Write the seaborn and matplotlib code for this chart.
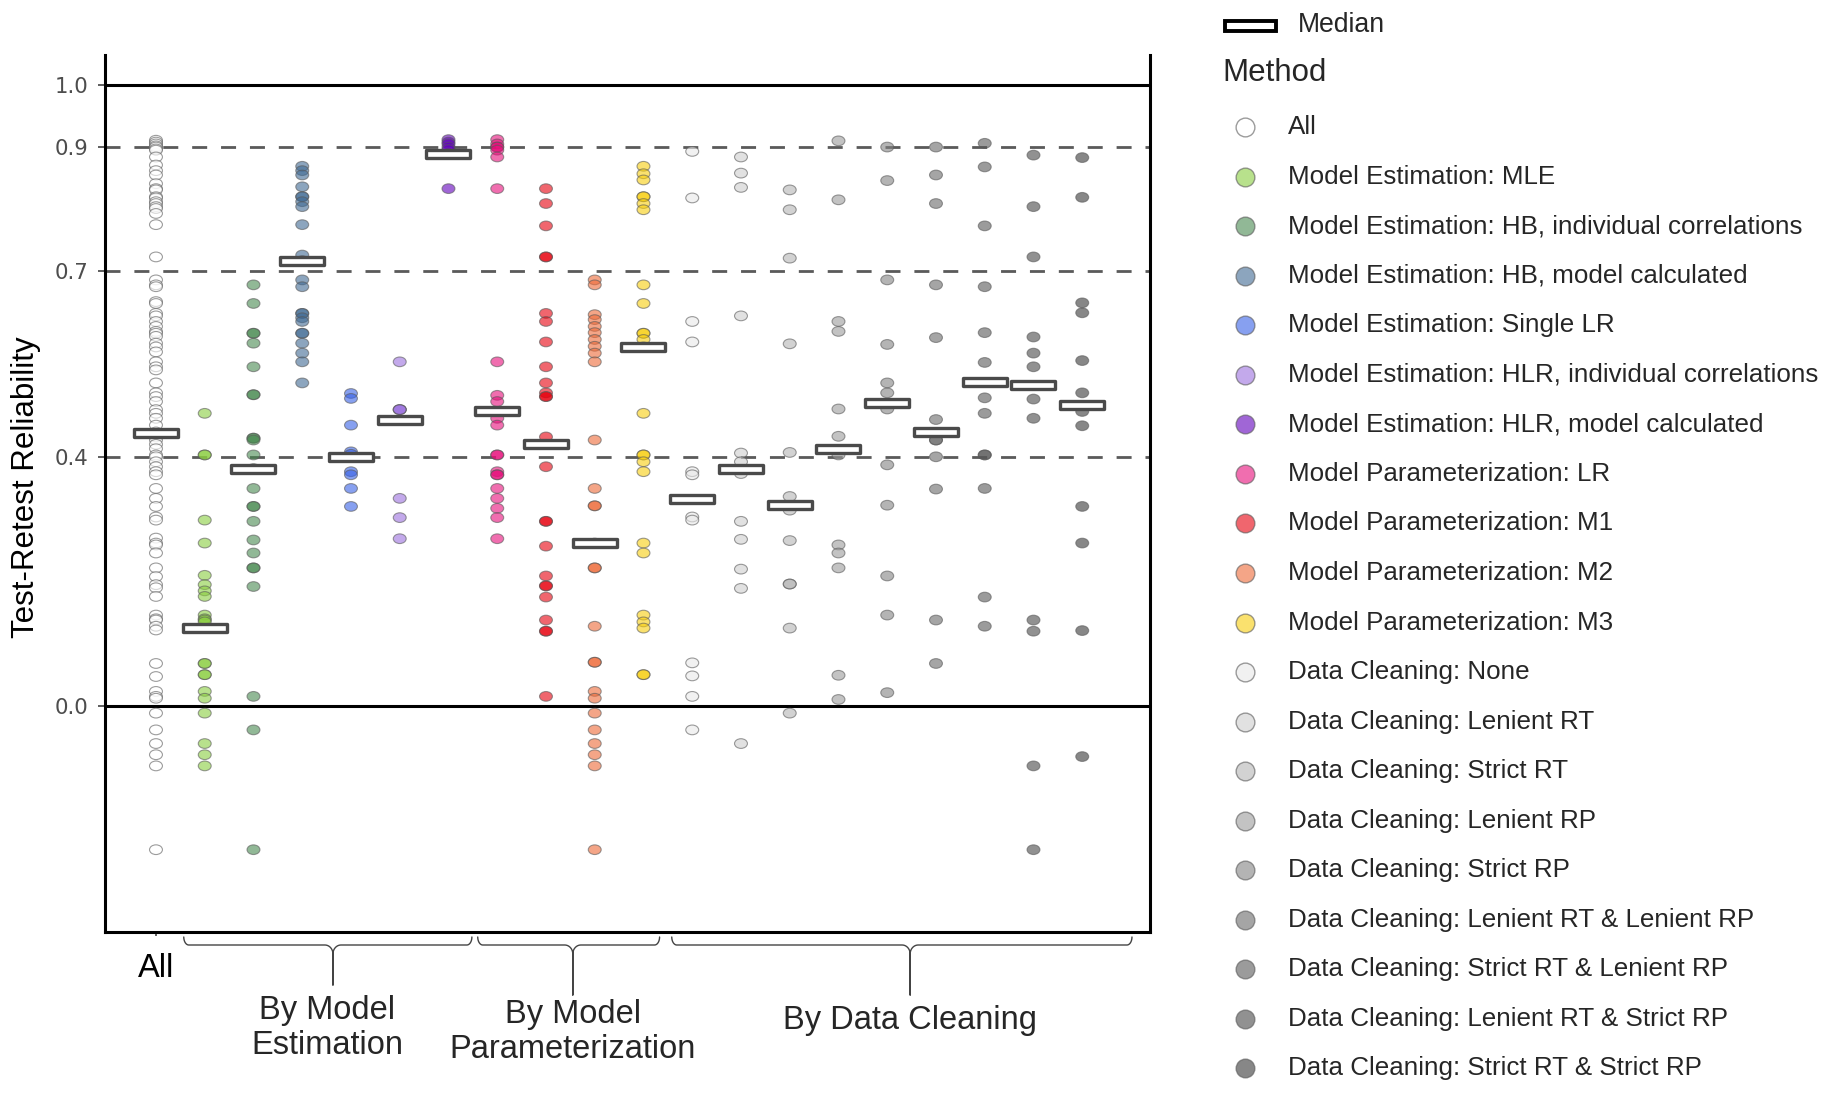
import numpy as np
import pandas as pd
import matplotlib
matplotlib.use("Agg")
import matplotlib.pyplot as plt
import matplotlib.transforms as mtransforms
from matplotlib.path import Path
from matplotlib.lines import Line2D
from matplotlib.patches import Rectangle
import seaborn as sns

# ---------------- data ----------------
methods = [
    "All",
    "Model Estimation: MLE",
    "Model Estimation: HB, individual correlations",
    "Model Estimation: HB, model calculated",
    "Model Estimation: Single LR",
    "Model Estimation: HLR, individual correlations",
    "Model Estimation: HLR, model calculated",
    "Model Parameterization: LR",
    "Model Parameterization: M1",
    "Model Parameterization: M2",
    "Model Parameterization: M3",
    "Data Cleaning: None",
    "Data Cleaning: Lenient RT",
    "Data Cleaning: Strict RT",
    "Data Cleaning: Lenient RP",
    "Data Cleaning: Strict RP",
    "Data Cleaning: Lenient RT & Lenient RP",
    "Data Cleaning: Strict RT & Lenient RP",
    "Data Cleaning: Lenient RT & Strict RP",
    "Data Cleaning: Strict RT & Strict RP",
]

vals_all = [0.911, 0.908, 0.905, 0.902, 0.900, 0.897, 0.895, 0.884, 0.871, 0.862, 0.855,
            0.841, 0.833, 0.831, 0.820, 0.818, 0.812, 0.809, 0.804, 0.801, 0.793, 0.775,
            0.723, 0.686, 0.678, 0.675, 0.651, 0.648, 0.632, 0.628, 0.619, 0.611, 0.603,
            0.600, 0.595, 0.584, 0.578, 0.570, 0.554, 0.546, 0.541, 0.520, 0.504, 0.498,
            0.490, 0.477, 0.471, 0.463, 0.452, 0.441, 0.433, 0.428, 0.421, 0.414, 0.404,
            0.401, 0.393, 0.385, 0.377, 0.372, 0.350, 0.334, 0.321, 0.304, 0.299, 0.270,
            0.262, 0.259, 0.246, 0.222, 0.208, 0.195, 0.190, 0.176, 0.146, 0.140, 0.138,
            0.128, 0.122, 0.068, 0.047, 0.023, 0.015, 0.012, -0.012, -0.039, -0.061,
            -0.079, -0.097, -0.232]
vals_mle = [0.471, 0.404, 0.404, 0.299, 0.262, 0.210, 0.195, 0.185, 0.176, 0.146, 0.140,
            0.138, 0.135, 0.068, 0.068, 0.050, 0.050, 0.023, 0.012, -0.012, -0.061,
            -0.079, -0.097]
vals_hb_ind = [0.678, 0.648, 0.600, 0.600, 0.584, 0.546, 0.501, 0.501, 0.431, 0.431,
               0.428, 0.404, 0.382, 0.350, 0.321, 0.321, 0.297, 0.267, 0.246, 0.222,
               0.222, 0.192, 0.015, -0.039, -0.232]
vals_hb_mod = [0.869, 0.862, 0.855, 0.836, 0.820, 0.820, 0.812, 0.804, 0.775, 0.726,
               0.717, 0.686, 0.675, 0.632, 0.632, 0.625, 0.619, 0.600, 0.600, 0.584,
               0.568, 0.554, 0.520]
vals_single_lr = [0.503, 0.495, 0.452, 0.409, 0.405, 0.377, 0.372, 0.350, 0.321]
vals_hlr_ind = [0.554, 0.477, 0.477, 0.477, 0.334, 0.303, 0.269]
vals_hlr_mod = [0.912, 0.908, 0.905, 0.900, 0.896, 0.889, 0.833]
vals_lr = [0.912, 0.905, 0.900, 0.900, 0.895, 0.884, 0.833, 0.554, 0.500, 0.490, 0.474,
           0.463, 0.452, 0.404, 0.404, 0.377, 0.372, 0.372, 0.350, 0.334, 0.318, 0.303,
           0.269]
vals_m1 = [0.833, 0.809, 0.773, 0.723, 0.723, 0.632, 0.619, 0.586, 0.546, 0.520, 0.504,
           0.498, 0.498, 0.433, 0.421, 0.385, 0.297, 0.297, 0.257, 0.209, 0.193, 0.193,
           0.175, 0.138, 0.120, 0.120, 0.015]
vals_m2 = [0.686, 0.678, 0.630, 0.622, 0.611, 0.601, 0.590, 0.579, 0.568, 0.554, 0.428,
           0.350, 0.322, 0.322, 0.262, 0.222, 0.222, 0.128, 0.070, 0.070, 0.023, 0.012,
           -0.012, -0.039, -0.061, -0.079, -0.097, -0.232]
vals_m3 = [0.869, 0.857, 0.847, 0.820, 0.820, 0.809, 0.799, 0.678, 0.648, 0.600, 0.600,
           0.590, 0.578, 0.471, 0.404, 0.404, 0.393, 0.377, 0.262, 0.246, 0.146, 0.135,
           0.125, 0.050, 0.050]
vals_none = [0.893, 0.818, 0.619, 0.586, 0.377, 0.372, 0.304, 0.299, 0.069, 0.048, 0.015,
             -0.039]
vals_len_rt = [0.884, 0.858, 0.835, 0.628, 0.407, 0.393, 0.374, 0.297, 0.268, 0.220,
               0.189, -0.061]
vals_str_rt = [0.831, 0.799, 0.721, 0.583, 0.408, 0.337, 0.315, 0.266, 0.196, 0.196,
               0.125, -0.012]
vals_len_rp = [0.910, 0.815, 0.619, 0.603, 0.478, 0.434, 0.404, 0.259, 0.246, 0.222,
               0.049, 0.010]
vals_str_rp = [0.900, 0.846, 0.686, 0.582, 0.520, 0.504, 0.478, 0.388, 0.323, 0.209,
               0.146, 0.021]
vals_lrt_lrp = [0.900, 0.855, 0.809, 0.678, 0.593, 0.461, 0.428, 0.428, 0.401, 0.349,
                0.138, 0.068]
vals_srt_lrp = [0.906, 0.868, 0.773, 0.675, 0.601, 0.553, 0.496, 0.471, 0.404, 0.404,
                0.350, 0.175, 0.128]
vals_lrt_srp = [0.887, 0.804, 0.723, 0.594, 0.568, 0.546, 0.494, 0.463, 0.138, 0.120,
                -0.097, -0.232]
vals_srt_srp = [0.883, 0.819, 0.649, 0.633, 0.556, 0.504, 0.474, 0.451, 0.321, 0.262,
                0.121, -0.082]

medians = [0.440, 0.125, 0.382, 0.717, 0.400, 0.460, 0.889, 0.474, 0.421, 0.262, 0.578,
           0.333, 0.381, 0.323, 0.414, 0.487, 0.441, 0.521, 0.517, 0.484]

colors = ["#FFFFFF", "#8ACD3F", "#488A50", "#3F6993", "#3761E6", "#9B71DE", "#6100BC",
          "#E60D7A", "#E6000D", "#EE6937", "#F7CD0D", "#E9E9E9", "#CDCDCD", "#B4B4B4",
          "#9B9B9B", "#828282", "#696969", "#585858", "#484848", "#373737"]

ytick_vals = [0.0, 0.4, 0.7, 0.9, 1.0]
ytick_labels = ["0.0", "0.4", "0.7", "0.9", "1.0"]
ref_dashed = [0.4, 0.7, 0.9]
ref_solid = [0.0, 1.0]

groups = ["By Model\nEstimation", "By Model\nParameterization", "By Data Cleaning"]

series = [vals_all, vals_mle, vals_hb_ind, vals_hb_mod, vals_single_lr, vals_hlr_ind,
          vals_hlr_mod, vals_lr, vals_m1, vals_m2, vals_m3, vals_none, vals_len_rt,
          vals_str_rt, vals_len_rp, vals_str_rp, vals_lrt_lrp, vals_srt_lrp,
          vals_lrt_srp, vals_srt_srp]

df = pd.DataFrame({
    "Method": np.repeat(methods, [len(s) for s in series]),
    "Reliability": np.concatenate(series),
})
med_df = pd.DataFrame({"Method": methods, "Median": medians})

# ---------------- style ----------------
sns.set_style("white")
plt.rcParams["font.family"] = ["Liberation Sans", "DejaVu Sans"]

W, H = 1830, 1098
fig = plt.figure(figsize=(W / 100, H / 100), dpi=100)
ax = fig.add_axes([104.5 / W, 1 - 932 / H, (1150 - 104.5) / W, (932 - 55) / H])

for y in ref_dashed:
    ax.axhline(y, color="#5a5a5a", lw=2.0, ls=(0, (5.4, 5.0)), zorder=1)
for y in ref_solid:
    ax.axhline(y, color="black", lw=2.2, zorder=1)

ell_verts = Path.unit_circle().vertices * np.array([1.0, 0.75])
ellipse = Path(ell_verts, Path.unit_circle().codes)
rect = Path([(-0.5, -0.1), (0.5, -0.1), (0.5, 0.1), (-0.5, 0.1), (-0.5, -0.1)],
            [Path.MOVETO, Path.LINETO, Path.LINETO, Path.LINETO, Path.CLOSEPOLY])

palette = dict(zip(methods, colors))
sns.stripplot(data=df, x="Method", y="Reliability", hue="Method", order=methods,
              hue_order=methods, palette=palette, jitter=False, size=9.3,
              marker=ellipse, linewidth=0.8, edgecolor="#5a5a5a", alpha=0.6,
              legend=False, ax=ax, zorder=2)
sns.stripplot(data=med_df, x="Method", y="Median", order=methods, jitter=False,
              size=31.0, marker=rect, color="white", edgecolor="#4a4a4a",
              linewidth=2.4, legend=False, ax=ax, zorder=4)

ax.set_xlim(-1.056, 20.39)
ax.set_ylim(-0.3646, 1.0483)
ax.set_xticks([0])
ax.set_xticklabels(["All"], fontsize=23.5, color="black")
ax.set_yticks(ytick_vals)
ax.set_yticklabels(ytick_labels)
ax.tick_params(axis="y", left=True, length=5, width=1.1, color="#333333", pad=6.5,
               labelsize=15.3, labelcolor="#4d4d4d")
for lab in ax.get_yticklabels():
    lab.set_fontfamily("DejaVu Sans")
ax.tick_params(axis="x", bottom=True, length=2.9, width=1.1, color="#333333", pad=12)
ax.set_xlabel("")
ax.set_ylabel("Test-Retest Reliability", fontsize=22.5, color="black")
ax.yaxis.label.set_verticalalignment("center")
ax.yaxis.set_label_coords((26 - 104.5) / 1045.5, (932 - 487) / 877)
ax.grid(False)
ax.spines["top"].set_visible(False)
for s in ["left", "right", "bottom"]:
    ax.spines[s].set_visible(True)
    ax.spines[s].set_linewidth(2.2)
    ax.spines[s].set_color("black")

# ---------------- braces & group labels ----------------
trans = mtransforms.blended_transform_factory(ax.transData, fig.transFigure)
du = (20.39 + 1.056) / 1045.5  # data units per pixel


def fy(py):
    return 1 - py / H


def brace(x0, x1, xm, tip_py):
    t = np.linspace(0, np.pi / 2, 12)
    r = 5
    xs, ys = [], []
    xs += list(x0 + r * du * (1 - np.cos(t)))
    ys += list(937 + 8 * np.sin(t))
    xs += list(xm - 8 * du + 8 * du * np.sin(t))
    ys += list(945 + 9 * (1 - np.cos(t)))
    xs += [xm]
    ys += [tip_py]
    xs += list(xm + 8 * du - 8 * du * np.sin(t[::-1]))
    ys += list(945 + 9 * (1 - np.cos(t[::-1])))
    xs += list(x1 - r * du * (1 - np.cos(t[::-1])))
    ys += list(937 + 8 * np.sin(t[::-1]))
    ax.plot(xs, [fy(v) for v in ys], transform=trans, color="#444444", lw=1.0,
            clip_on=False, solid_joinstyle="round")


brace(0.57, 6.48, 3.63, 985)
brace(6.60, 10.33, 8.55, 995)
brace(10.58, 20.02, 15.47, 995)

ax.text(3.51, fy(1028), groups[0], transform=trans, ha="center", va="center",
        fontsize=23.5, linespacing=1.18)
ax.text(8.55, fy(1032), groups[1], transform=trans, ha="center", va="center",
        fontsize=23.5, linespacing=1.18)
ax.text(15.47, fy(1020), groups[2], transform=trans, ha="center", va="center",
        fontsize=23.5)

# ---------------- legend ----------------
fig.add_artist(Rectangle((1225 / W, 1 - 30.5 / H), 51 / W, 10 / H, transform=fig.transFigure,
                         facecolor="white", edgecolor="black", lw=2.8))
fig.text(1298 / W, fy(25), "Median", fontsize=19.2, va="center", ha="left")
fig.text(1222 / W, fy(73), "Method", fontsize=22.5, va="center", ha="left")
for i, (m, c) in enumerate(zip(methods, colors)):
    yy = fy(127 + 49.55 * i)
    fig.add_artist(Line2D([1245 / W], [yy], transform=fig.transFigure, marker="o",
                          ms=13.5, mfc=c, mec="#5a5a5a", mew=1.0, alpha=0.6, ls="none"))
    fig.text(1288 / W, yy, m, fontsize=18.7, va="center", ha="left")

fig.savefig("out.png", dpi=100)
